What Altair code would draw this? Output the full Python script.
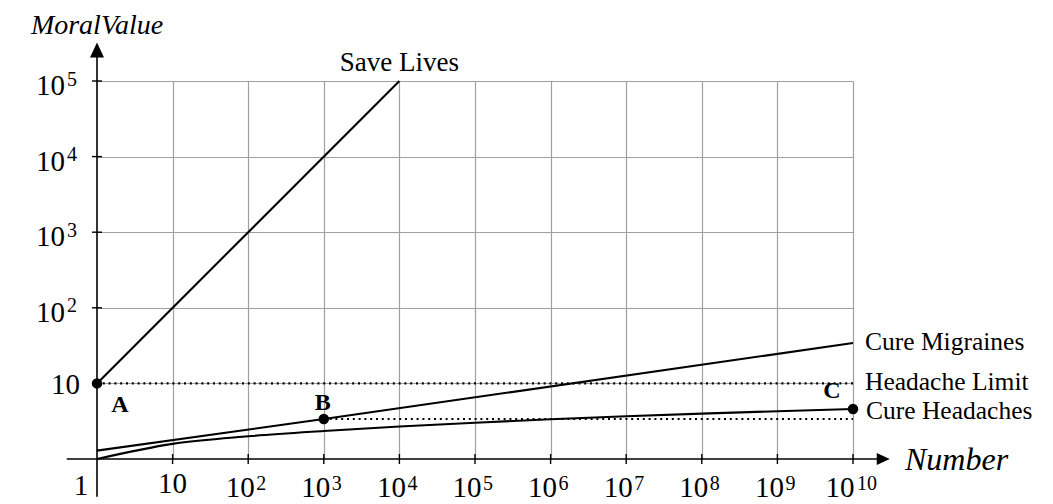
import altair as alt
import pandas as pd

# ---------------- data ----------------
grid_x = [1e1, 1e2, 1e3, 1e4, 1e5, 1e6, 1e7, 1e8, 1e9, 1e10]
grid_y = [1e1, 1e2, 1e3, 1e4, 1e5]

save_x = [1, 1e4]
save_y = [10, 1e5]

migr_x = [1, 1e3, 1e10]
migr_y = [1.29, 3.38, 34.2]

head_x = [1, 1e1, 1e2, 1e3, 1e4, 1e5, 1e6, 1e7, 1e8, 1e9, 1e10]
head_y = [1.0, 1.585, 1.995, 2.344, 2.69, 3.02, 3.35, 3.67, 3.98, 4.29, 4.58]

limit_x = [1, 1e10]
limit_y = [10, 10]

bline_x = [1e3, 1e10]
bline_y = [3.38, 3.38]

pt_names = ["A", "B", "C"]
pt_x = [1, 1e3, 1e10]
pt_y = [10, 3.38, 4.58]

# x tick labels: "10" then 10^2 ... 10^10
xlab_plain_x = [1e1]
xlab_sup_x = [1e2, 1e3, 1e4, 1e5, 1e6, 1e7, 1e8, 1e9]
xlab_sup_t = ["2", "3", "4", "5", "6", "7", "8", "9"]
xlab_big_x = [1e10]
xlab_big_t = ["10"]

ylab_plain_y = [1e1]
ylab_sup_y = [1e2, 1e3, 1e4, 1e5]
ylab_sup_t = ["2", "3", "4", "5"]

# axis extents (axis lines with arrows, drawn beyond the domain)
xaxis_from, xaxis_to, xarrow = 10 ** -0.4, 10 ** 10.33, 10 ** 10.40
yaxis_from, yaxis_to, yarrow = 10 ** -0.5, 10 ** 5.36, 10 ** 5.41

FONT = "Liberation Serif"

xs = alt.Scale(type="log", domain=[1, 1e10], nice=False)
ys = alt.Scale(type="log", domain=[1, 1e5], nice=False)
xax = alt.Axis(values=grid_x, grid=True, gridColor="#a0a0a0", gridWidth=1.2,
               domain=False, ticks=False, labels=False, title=None)
yax = alt.Axis(values=grid_y, grid=True, gridColor="#a0a0a0", gridWidth=1.2,
               domain=False, ticks=False, labels=False, title=None)


def X(f="x"):
    return alt.X(f + ":Q", scale=xs, axis=xax)


def Y(f="y"):
    return alt.Y(f + ":Q", scale=ys, axis=yax)


def df(xv, yv, **extra):
    d = {"x": xv, "y": yv}
    d.update(extra)
    return pd.DataFrame(d)


layers = []

# axis lines
layers.append(alt.Chart(df([xaxis_from], [1], x2=[xaxis_to])).mark_rule(
    color="black", strokeWidth=1.6).encode(x=X(), x2="x2:Q", y=Y()))
layers.append(alt.Chart(df([1], [yaxis_from], y2=[yaxis_to])).mark_rule(
    color="black", strokeWidth=1.6).encode(x=X(), y=Y(), y2="y2:Q"))
# arrow heads
layers.append(alt.Chart(df([xarrow], [1])).mark_point(
    shape="M1,0L-1,0.92L-1,-0.92Z", filled=True, size=169, color="black",
    opacity=1, strokeWidth=0).encode(x=X(), y=Y()))
layers.append(alt.Chart(df([1], [yarrow])).mark_point(
    shape="M0,-1L0.93,1L-0.93,1Z", filled=True, size=225, color="black",
    opacity=1, strokeWidth=0).encode(x=X(), y=Y()))
# tick marks crossing the axes
layers.append(alt.Chart(df(grid_x, [1] * len(grid_x))).mark_tick(
    orient="vertical", size=10, thickness=1.4, color="black", opacity=1).encode(x=X(), y=Y()))
layers.append(alt.Chart(df([1] * len(grid_y), grid_y)).mark_tick(
    orient="horizontal", size=10, thickness=1.4, color="black", opacity=1).encode(x=X(), y=Y()))

# dotted lines
dots = dict(color="black", strokeWidth=2.2, strokeDash=[2, 3.8])
layers.append(alt.Chart(df(limit_x, limit_y)).mark_line(**dots).encode(x=X(), y=Y()))
layers.append(alt.Chart(df(bline_x, bline_y)).mark_line(**dots).encode(x=X(), y=Y()))

# solid curves
layers.append(alt.Chart(df(save_x, save_y)).mark_line(color="black", strokeWidth=2.1).encode(x=X(), y=Y()))
layers.append(alt.Chart(df(migr_x, migr_y)).mark_line(color="black", strokeWidth=2.1).encode(x=X(), y=Y()))
layers.append(alt.Chart(df(head_x, head_y)).mark_line(
    color="black", strokeWidth=2.1, interpolate="monotone").encode(x=X(), y=Y()))

# points
layers.append(alt.Chart(df(pt_x, pt_y)).mark_circle(size=110, color="black", opacity=1).encode(x=X(), y=Y()))

# point letters
letter_off = {"A": (23, 29), "B": (-1, -9), "C": (-21, -11)}
for n, xv, yv in zip(pt_names, pt_x, pt_y):
    dx, dy = letter_off[n]
    layers.append(alt.Chart(df([xv], [yv], t=[n])).mark_text(
        font=FONT, fontWeight="bold", fontSize=24, align="center", baseline="alphabetic",
        dx=dx, dy=dy, color="black").encode(x=X(), y=Y(), text="t:N"))

# curve labels
lab = dict(font=FONT, fontSize=25.5, color="black", baseline="alphabetic")
layers.append(alt.Chart(df([save_x[-1]], [save_y[-1]], t=["Save Lives"])).mark_text(
    align="center", dy=-10, fontSize=27, **{k: v for k, v in lab.items() if k != "fontSize"}
).encode(x=X(), y=Y(), text="t:N"))
layers.append(alt.Chart(df([migr_x[-1]], [migr_y[-1]], t=["Cure Migraines"])).mark_text(
    align="left", dx=12, dy=7, **lab).encode(x=X(), y=Y(), text="t:N"))
layers.append(alt.Chart(df([limit_x[-1]], [limit_y[-1]], t=["Headache Limit"])).mark_text(
    align="left", dx=12, dy=7, **lab).encode(x=X(), y=Y(), text="t:N"))
layers.append(alt.Chart(df([head_x[-1]], [head_y[-1]], t=["Cure Headaches"])).mark_text(
    align="left", dx=13, dy=10, **lab).encode(x=X(), y=Y(), text="t:N"))

# axis titles
ttl = dict(font=FONT, fontStyle="italic", color="black", baseline="alphabetic")
layers.append(alt.Chart(df([1], [1e5], t=["MoralValue"])).mark_text(
    align="center", dy=-47, fontSize=28, **ttl).encode(x=X(), y=Y(), text="t:N"))
layers.append(alt.Chart(df([1e10], [1], t=["Number"])).mark_text(
    align="left", dx=52, dy=11, fontSize=32, **ttl).encode(x=X(), y=Y(), text="t:N"))

# tick labels
base = dict(font=FONT, fontSize=29, color="black", baseline="alphabetic")
sup = dict(font=FONT, fontSize=20, color="black", baseline="alphabetic")
# origin "1"
layers.append(alt.Chart(df([1], [1], t=["1"])).mark_text(
    align="center", dx=-16, dy=36, **base).encode(x=X(), y=Y(), text="t:N"))
# x labels
layers.append(alt.Chart(df(xlab_plain_x, [1], t=["10"])).mark_text(
    align="center", dy=34, **base).encode(x=X(), y=Y(), text="t:N"))
layers.append(alt.Chart(df(xlab_sup_x, [1] * len(xlab_sup_x), t=["10"] * len(xlab_sup_x))).mark_text(
    align="right", dx=6.5, dy=38, **base).encode(x=X(), y=Y(), text="t:N"))
layers.append(alt.Chart(df(xlab_sup_x, [1] * len(xlab_sup_x), t=xlab_sup_t)).mark_text(
    align="left", dx=8, dy=31, **sup).encode(x=X(), y=Y(), text="t:N"))
layers.append(alt.Chart(df(xlab_big_x, [1], t=["10"])).mark_text(
    align="right", dx=1.5, dy=38, **base).encode(x=X(), y=Y(), text="t:N"))
layers.append(alt.Chart(df(xlab_big_x, [1], t=xlab_big_t)).mark_text(
    align="left", dx=4, dy=31, **sup).encode(x=X(), y=Y(), text="t:N"))
# y labels
layers.append(alt.Chart(df([1], ylab_plain_y, t=["10"])).mark_text(
    align="right", dx=-17, dy=11, **base).encode(x=X(), y=Y(), text="t:N"))
layers.append(alt.Chart(df([1] * len(ylab_sup_y), ylab_sup_y, t=["10"] * len(ylab_sup_y))).mark_text(
    align="right", dx=-32, dy=14, **base).encode(x=X(), y=Y(), text="t:N"))
layers.append(alt.Chart(df([1] * len(ylab_sup_y), ylab_sup_y, t=ylab_sup_t)).mark_text(
    align="left", dx=-30, dy=4.5, **sup).encode(x=X(), y=Y(), text="t:N"))

chart = alt.layer(*layers).properties(
    width=756, height=378,
    padding={"left": 89, "top": 73, "right": 192, "bottom": 45},
    autosize=alt.AutoSizeParams(type="none"),
    background="white",
).configure_view(stroke=None)

chart.save("out.html", embed_options={"renderer": "svg", "actions": False})
